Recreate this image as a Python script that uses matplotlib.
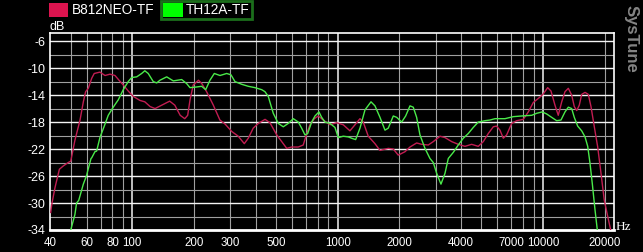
import matplotlib
matplotlib.use("Agg")
import matplotlib.pyplot as plt
from matplotlib.patches import Rectangle

plt.rcParams['font.family'] = ['Liberation Sans', 'DejaVu Sans']

series_names = ["B812NEO-TF", "TH12A-TF"]

red_f = [40, 40.5, 42.0, 44.1, 46.1, 48.7, 50.1, 52.5, 55.6, 57.7, 59.2, 61.0, 63.4, 65.2, 69.5, 73.6, 77.8,
         82.3, 86.1, 90.3, 95.5, 101, 109, 115, 122, 129, 139, 152, 161, 171, 180, 186, 191, 198, 210, 218,
         230, 248, 267, 283, 305, 328, 351, 367, 388, 411, 443, 468, 505, 565, 597, 643, 680, 699, 733, 770,
         805, 851, 918, 989, 1065, 1148, 1215, 1285, 1333, 1410, 1520, 1608, 1765, 1867, 1974, 2128, 2251,
         2426, 2566, 2764, 2924, 3152, 3334, 3594, 3870, 4172, 4497, 4843, 5123, 5419, 5733, 5952, 6177,
         6413, 6660, 7045, 7452, 8025, 8489, 8979, 9497, 10000, 10550, 10950, 11450, 11880, 12350, 12810,
         13300, 13810, 14220, 14610, 15040, 15450, 16040, 16640, 17150, 17800, 18490, 19190, 19910, 20690,
         21390]
red_db = [-31.4, -30.2, -27.7, -25.0, -24.5, -24.0, -23.8, -20.7, -17.7, -15.0, -13.5, -13.0, -11.5, -10.8,
          -10.6, -11.1, -10.9, -11.1, -11.8, -12.5, -13.4, -14.2, -14.8, -15.0, -15.7, -16.0, -15.5, -14.9,
          -15.5, -17.0, -17.5, -17.0, -14.7, -12.5, -11.8, -12.3, -13.5, -15.5, -17.7, -18.3, -19.4, -20.1,
          -21.2, -20.4, -18.9, -18.2, -17.6, -18.1, -19.9, -21.9, -21.7, -21.7, -21.4, -20.2, -18.4, -17.5,
          -17.1, -17.7, -18.4, -18.1, -18.4, -19.3, -18.4, -17.5, -18.0, -20.1, -21.2, -22.2, -21.9, -22.0,
          -22.9, -22.4, -21.7, -21.1, -21.3, -21.4, -20.9, -20.1, -20.3, -20.9, -21.3, -21.6, -21.3, -21.6,
          -20.9, -19.7, -18.7, -18.6, -19.2, -20.4, -19.9, -18.2, -17.8, -17.6, -16.5, -15.1, -14.5, -13.9,
          -12.9, -13.4, -15.5, -17.0, -15.0, -13.5, -13.0, -14.0, -15.7, -16.3, -15.5, -13.9, -13.6, -13.9,
          -15.7, -18.7, -21.7, -25.6, -29.6, -32.0, -34.0]

green_f = [50.1, 52.5, 53.5, 54.8, 56.6, 57.7, 59.9, 60.3, 62.9, 63.4, 65.7, 67.0, 69.5, 73.6, 76.3, 80.7,
           85.4, 90.3, 95.5, 99.2, 105, 111, 115, 119.5, 126.4, 131.4, 136.3, 147, 158.3, 173.9, 183.9, 190.8,
           205.7, 217.6, 227.6, 238.8, 250.7, 267.2, 288, 302.3, 316.1, 340.8, 367, 395.7, 426.6, 442.6,
           459.3, 485.8, 513.9, 543.5, 574.9, 608, 643, 668, 693, 714.6, 747.3, 775.6, 811, 836, 867.6, 917.6,
           970.4, 1007, 1065, 1127, 1170, 1224, 1285, 1359, 1454, 1520, 1608, 1701, 1765, 1867, 1939, 2051,
           2145, 2251, 2336, 2426, 2518, 2664, 2817, 2924, 3037, 3187, 3334, 3460, 3659, 3870, 4093, 4329,
           4579, 4843, 5221, 5523, 5842, 6535, 7172, 7881, 8817, 9326, 9928, 10430, 11030, 11670, 12250,
           12810, 13300, 13810, 14220, 14770, 15450, 16040, 16530, 16960, 17400, 17940, 18410]
green_db = [-34.0, -31.7, -30.0, -29.6, -28.1, -27.2, -25.9, -25.5, -23.4, -23.3, -22.4, -22.3, -20.3, -18.3,
            -17.0, -15.8, -14.7, -13.2, -12.0, -11.4, -11.3, -10.8, -10.4, -10.8, -12.0, -12.2, -11.8, -11.3,
            -11.9, -11.7, -12.3, -12.9, -12.8, -12.7, -13.2, -11.8, -10.8, -11.1, -10.8, -11.0, -12.0, -12.4,
            -12.7, -12.9, -13.2, -13.5, -14.2, -16.7, -18.2, -18.7, -18.2, -17.5, -18.0, -18.9, -19.9, -19.7,
            -18.0, -17.1, -16.5, -17.3, -18.0, -18.2, -18.8, -20.3, -20.1, -20.2, -20.4, -20.6, -18.9, -16.2,
            -15.0, -15.6, -17.3, -19.2, -18.9, -17.1, -17.3, -18.0, -17.1, -15.6, -15.8, -17.3, -19.9, -21.9,
            -23.4, -24.0, -25.6, -27.2, -25.6, -23.4, -22.5, -21.4, -20.4, -19.7, -18.8, -18.0, -17.8, -17.7,
            -17.5, -17.5, -17.2, -17.1, -17.0, -16.7, -16.5, -16.8, -17.3, -17.8, -17.7, -16.5, -15.8, -16.0,
            -17.3, -18.6, -19.3, -20.2, -21.6, -24.1, -27.1, -31.0, -34.0]

x_tick_vals = [40, 60, 80, 100, 200, 300, 500, 1000, 2000, 4000, 7000, 10000, 20000]
x_tick_labels = ["40", "60", "80", "100", "200", "300", "500", "1000", "2000", "4000", "7000", "10000", "20000"]
y_tick_vals = [-34, -30, -26, -22, -18, -14, -10, -6]

W, H = 643, 252
fig = plt.figure(figsize=(W / 100, H / 100), dpi=100, facecolor='black')
ax = fig.add_axes([50 / W, 1 - 230 / H, (614 - 50) / W, (230 - 33) / H])
ax.set_facecolor('black')
ax.set_xscale('log')
ax.set_xlim(39.7, 22200)
ax.set_ylim(-34, -4.8)

# grid
for d in [10, 100, 1000, 10000]:
    for m in range(1, 10):
        f = m * d
        if 40 < f <= 20000:
            major = f in (100, 1000, 10000)
            ax.axvline(f, color='#f4f4f4' if major else '#a0a0a0', lw=1.1 if major else 0.8, zorder=1)
for v in range(-32, -4, 2):
    major = v in y_tick_vals
    ax.axhline(v, color='#f4f4f4' if major else '#a0a0a0', lw=1.0 if major else 0.8, zorder=1)

ax.plot(red_f, red_db, color='#c21d52', lw=1.0, zorder=3)
ax.plot(green_f, green_db, color='#4aea4a', lw=1.0, zorder=3)

for s in ax.spines.values():
    s.set_color('white')
    s.set_linewidth(1.2)
ax.spines['bottom'].set_linewidth(2.0)

ax.set_xticks(x_tick_vals)
ax.set_xticklabels(x_tick_labels)
ax.xaxis.set_minor_locator(matplotlib.ticker.NullLocator())
ax.set_yticks(y_tick_vals)
ax.set_yticklabels([str(v) for v in y_tick_vals])
ax.tick_params(axis='both', length=0, colors='white')
ax.tick_params(axis='x', pad=5, labelsize=8.3)
ax.tick_params(axis='y', pad=3, labelsize=9)

# axis unit labels
fig.text(50 / W, 1 - 27 / H, 'dB', color='white', fontsize=9, ha='left', va='center')
fig.text(616 / W, 1 - 227 / H, 'Hz', color='white', fontsize=9.5, ha='left', va='center',
         family=['Liberation Serif', 'DejaVu Serif'])

# legend
fig.patches.append(Rectangle((49 / W, 1 - 17 / H), 19 / W, 14 / H, transform=fig.transFigure,
                             facecolor='#dc144f', edgecolor='none'))
fig.text(72 / W, 1 - 10 / H, series_names[0], color='white', fontsize=9.8, ha='left', va='center')
fig.patches.append(Rectangle((160.5 / W, 1 - 19 / H), 91 / W, 18 / H, transform=fig.transFigure,
                             facecolor='none', edgecolor='#1b6e1b', lw=2))
fig.patches.append(Rectangle((163 / W, 1 - 17 / H), 20 / W, 14 / H, transform=fig.transFigure,
                             facecolor='#00ff00', edgecolor='none'))
fig.text(186 / W, 1 - 10 / H, series_names[1], color='white', fontsize=9.8, ha='left', va='center')

# watermark
fig.text(631 / W, 1 - 39 / H, 'SysTune', color='#858585', fontsize=12, fontweight='bold',
         rotation=-90, ha='center', va='center')

fig.savefig('out.png', dpi=100, facecolor='black')
